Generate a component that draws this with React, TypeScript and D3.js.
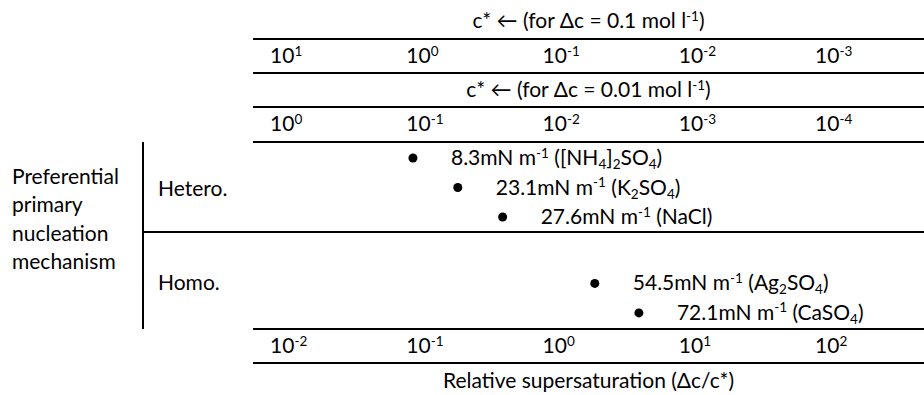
import React from "react";
import * as d3 from "d3";

// ---- data ----
const supersatTicks = [1e-2, 1e-1, 1e0, 1e1, 1e2];
const deltaC1 = 0.1;
const cStarTicks1 = [1e1, 1e0, 1e-1, 1e-2, 1e-3];
const deltaC2 = 0.01;
const cStarTicks2 = [1e0, 1e-1, 1e-2, 1e-3, 1e-4];

const salts = ["[NH4]2SO4", "K2SO4", "NaCl", "Ag2SO4", "CaSO4"];
const surfaceTension = [8.3, 23.1, 27.6, 54.5, 72.1];
const relSupersat = [0.112, 0.239, 0.51, 2.42, 5.1];
const mechanismOf = ["Hetero.", "Hetero.", "Hetero.", "Homo.", "Homo."];
const rowIndex = [0, 1, 2, 4.25, 5.25];
const mechanisms = ["Hetero.", "Homo."];
const leftLabel = ["Preferential", "primary", "nucleation", "mechanism"];

const W = 924;
const H = 395;
const FONT = "Lato, 'Open Sans', sans-serif";
const FS = 21;
const SFS = 13.5;

function Pow10({ v }: { v: number }) {
  const e = Math.round(Math.log10(v));
  return (
    <>
      <tspan>10</tspan>
      <tspan fontSize={SFS} dy={-7.5}>{String(e)}</tspan>
    </>
  );
}

function Formula({ f }: { f: string }) {
  const parts = f.split(/(\d+)/).filter((p) => p.length > 0);
  return (
    <>
      {parts.map((p, i) =>
        /^\d+$/.test(p) ? (
          <tspan key={i} fontSize={SFS} dy={4}>{p}</tspan>
        ) : (
          <tspan key={i} dy={i > 0 ? -4 : 0}>{p}</tspan>
        )
      )}
    </>
  );
}

export default function App() {
  const lineX0 = 253;
  const lineX1 = W;
  const x = d3.scaleLog().domain([1e-2, 1e2]).range([270, 815]);
  const yRow = d3.scaleLinear().domain([0, 1]).range([158, 187.5]);

  const rules = { t1: 39, t2: 73, t3: 107, body: 142, mid: 232, bottom: 329, b2: 363 };
  const cx = (lineX0 + lineX1) / 2;
  const vX = 143;

  const titleText = (dc: number) => (
    <>
      <tspan>{`c* ← (for Δc = ${dc} mol l`}</tspan>
      <tspan fontSize={SFS} dy={-7.5}>-1</tspan>
      <tspan dy={7.5}>)</tspan>
    </>
  );

  return (
    <div style={{ position: "absolute", left: 0, top: 0 }}>
      <svg width={W} height={H} style={{ display: "block" }} fontFamily={FONT} fontSize={FS} fill="#000">
        <rect width={W} height={H} fill="#fff" />
        {/* top axes */}
        <text x={cx} y={28} textAnchor="middle">{titleText(deltaC1)}</text>
        <line x1={lineX0} x2={lineX1} y1={rules.t1} y2={rules.t1} stroke="#000" strokeWidth={2} />
        {cStarTicks1.map((c, i) => (
          <text key={i} x={x(deltaC1 / c)} y={rules.t1 + 24}><Pow10 v={c} /></text>
        ))}
        <line x1={lineX0} x2={lineX1} y1={rules.t2} y2={rules.t2} stroke="#000" strokeWidth={2} />
        <text x={cx} y={rules.t2 + 24} textAnchor="middle">{titleText(deltaC2)}</text>
        <line x1={lineX0} x2={lineX1} y1={rules.t3} y2={rules.t3} stroke="#000" strokeWidth={2} />
        {cStarTicks2.map((c, i) => (
          <text key={i} x={x(deltaC2 / c)} y={rules.t3 + 24}><Pow10 v={c} /></text>
        ))}
        <line x1={lineX0} x2={lineX1} y1={rules.body} y2={rules.body} stroke="#000" strokeWidth={2} />

        {/* left labels */}
        {leftLabel.map((t, i) => (
          <text key={i} x={12} y={184 + i * 28.3}>{t}</text>
        ))}
        <line x1={vX} x2={vX} y1={rules.body} y2={rules.bottom} stroke="#000" strokeWidth={2} />
        <line x1={vX} x2={lineX1} y1={rules.mid} y2={rules.mid} stroke="#000" strokeWidth={2} />
        <text x={158} y={196}>{mechanisms[0]}</text>
        <text x={158} y={290}>{mechanisms[1]}</text>

        {/* points */}
        {salts.map((s, i) => {
          const px = x(relSupersat[i]);
          const py = yRow(rowIndex[i]);
          return (
            <g key={s} data-mech={mechanismOf[i]}>
              <circle cx={px} cy={py} r={4.5} fill="#000" />
              <text x={px + 38} y={py + 7}>
                <tspan>{`${surfaceTension[i]}mN m`}</tspan>
                <tspan fontSize={SFS} dy={-7.5}>-1</tspan>
                <tspan dy={7.5}>{" ("}</tspan>
                <Formula f={s} />
                <tspan dy={/\d$/.test(s) ? -4 : 0}>)</tspan>
              </text>
            </g>
          );
        })}

        {/* bottom axis */}
        <line x1={lineX0} x2={lineX1} y1={rules.bottom} y2={rules.bottom} stroke="#000" strokeWidth={2} />
        {supersatTicks.map((s, i) => (
          <text key={i} x={x(s)} y={rules.bottom + 24}><Pow10 v={s} /></text>
        ))}
        <line x1={lineX0} x2={lineX1} y1={rules.b2} y2={rules.b2} stroke="#000" strokeWidth={2} />
        <text x={cx} y={388} textAnchor="middle">Relative supersaturation (Δc/c*)</text>
      </svg>
    </div>
  );
}
